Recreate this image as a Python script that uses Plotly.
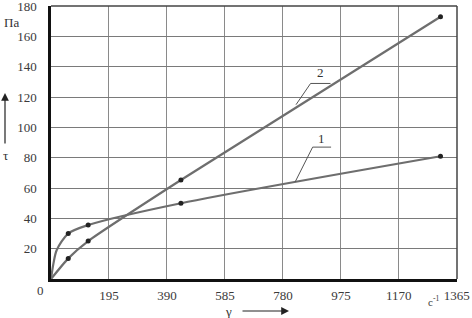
import plotly.graph_objects as go

# Curve 1 (upper at low shear rates)
c1_x = [0, 8, 19, 58, 125, 437, 1310]
c1_y = [0, 10, 19, 30, 35.6, 50, 81]
c1_px = [58, 125, 437, 1310]
c1_py = [30, 35.6, 50, 81]

# Curve 2
c2_x = [0, 58, 125, 437, 1310]
c2_y = [0, 13.6, 25, 65.3, 173]
c2_px = [58, 125, 437, 1310]
c2_py = [13.6, 25, 65.3, 173]

x_ticks = [195, 390, 585, 780, 975, 1170, 1365]
y_ticks = [20, 40, 60, 80, 100, 120, 140, 160, 180]

FONT = "Liberation Serif"
LINE = "#6e6e6e"
TICK_C = "#3a3a3a"

W, H = 472, 318
L, R, T, B = 51, 15, 6, 39
pw, ph = W - L - R, H - T - B


def px(x, y):
    return (x - L) / pw, (H - B - y) / ph


fig = go.Figure()
fig.add_trace(go.Scatter(x=c1_x, y=c1_y, mode="lines", line=dict(color=LINE, width=2.2, shape="spline", smoothing=0.8), showlegend=False, hoverinfo="skip"))
fig.add_trace(go.Scatter(x=c2_x, y=c2_y, mode="lines", line=dict(color=LINE, width=2.2, shape="spline", smoothing=0.5), showlegend=False, hoverinfo="skip"))
fig.add_trace(go.Scatter(x=c1_px, y=c1_py, mode="markers", marker=dict(color="#222", size=5), showlegend=False, cliponaxis=False))
fig.add_trace(go.Scatter(x=c2_px, y=c2_py, mode="markers", marker=dict(color="#222", size=5), showlegend=False, cliponaxis=False))

ann = []


def text_at(t, x, y, size=13, color="#333"):
    X, Y = px(x, y)
    ann.append(dict(text=t, x=X, y=Y, xref="paper", yref="paper", showarrow=False,
                    xanchor="center", yanchor="middle", font=dict(family=FONT, size=size, color=color)))


text_at("Па", 11, 22)
text_at("0", 40, 290, color=TICK_C)
text_at("τ", 5, 155)
text_at("γ", 228, 311)
text_at("c<sup>-1</sup>", 433, 301, size=11, color=TICK_C)

ann.append(dict(text="2", x=908, y=136, xref="x", yref="y", showarrow=False, font=dict(family=FONT, size=13, color="#333")))
ann.append(dict(text="1", x=910, y=93, xref="x", yref="y", showarrow=False, font=dict(family=FONT, size=13, color="#333")))

# arrows
ax0, ay0 = px(5, 93)
ann.append(dict(x=ax0, y=ay0, ax=0, ay=52, xref="paper", yref="paper", showarrow=True, arrowhead=2,
                arrowsize=1.3, arrowwidth=1.2, arrowcolor="#222", text=""))
ax1, ay1 = px(289, 311)
ann.append(dict(x=ax1, y=ay1, ax=-48, ay=0, xref="paper", yref="paper", showarrow=True, arrowhead=2,
                arrowsize=1.3, arrowwidth=1.2, arrowcolor="#222", text=""))

fig.update_layout(
    width=W, height=H,
    margin=dict(l=L, r=R, t=T, b=B, autoexpand=False),
    paper_bgcolor="white", plot_bgcolor="white",
    font=dict(family=FONT, size=13, color="#333"),
    xaxis=dict(range=[0, 1365.5], tickvals=x_ticks, showgrid=True, gridcolor="#8a8a8a", gridwidth=1,
               showline=True, linecolor="#111", linewidth=2.5, zeroline=False, automargin=False,
               ticks="", ticklabelstandoff=3, ticklabeloverflow="allow",
               tickfont=dict(family=FONT, size=13, color=TICK_C)),
    yaxis=dict(range=[0, 180.1], tickvals=y_ticks, showgrid=True, gridcolor="#7a7a7a", gridwidth=1,
               showline=True, linecolor="#111", linewidth=2.5, zeroline=False, automargin=False,
               ticks="", ticklabelstandoff=9, ticklabeloverflow="allow",
               tickfont=dict(family=FONT, size=13, color=TICK_C)),
    shapes=[
        dict(type="line", xref="paper", yref="paper", x0=0, x1=1, y0=1, y1=1, line=dict(color="#444", width=1.5)),
        dict(type="line", xref="paper", yref="paper", x0=1, x1=1, y0=0, y1=1, line=dict(color="#444", width=1.5)),
        dict(type="line", xref="x", yref="y", x0=873, x1=940, y0=129, y1=129, line=dict(color="#555", width=1)),
        dict(type="line", xref="x", yref="y", x0=873, x1=824, y0=129, y1=115, line=dict(color="#555", width=1)),
        dict(type="line", xref="x", yref="y", x0=880, x1=942, y0=87, y1=87, line=dict(color="#555", width=1)),
        dict(type="line", xref="x", yref="y", x0=880, x1=821, y0=87, y1=64, line=dict(color="#555", width=1)),
    ],
    annotations=ann,
)

fig.write_html("out.html", config={"displayModeBar": False},
               post_script="document.body.style.margin='0px';document.body.style.padding='0px';")
